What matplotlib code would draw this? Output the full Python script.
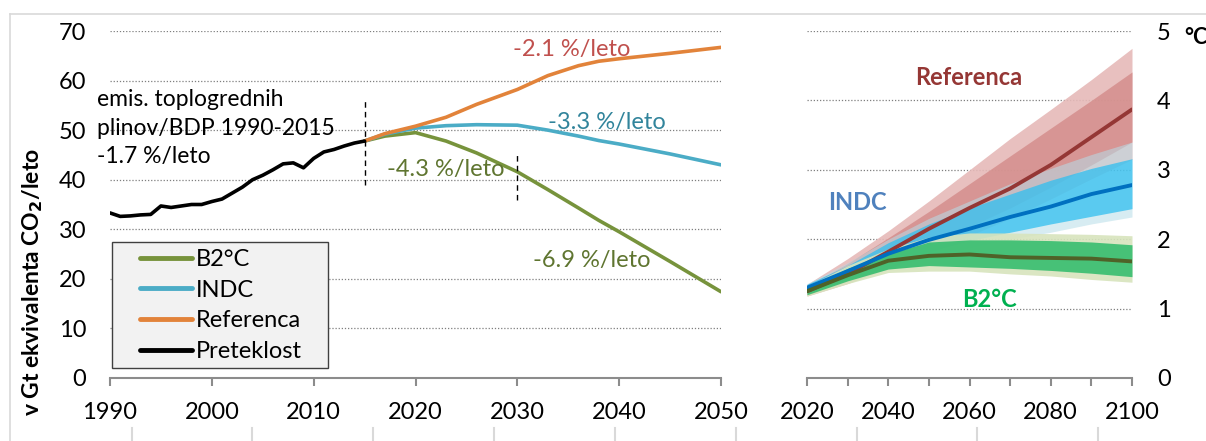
import numpy as np
import matplotlib
matplotlib.use('Agg')
import matplotlib.pyplot as plt
from matplotlib.lines import Line2D
from matplotlib.patches import Rectangle
from matplotlib.ticker import MultipleLocator

plt.rcParams['font.family'] = ['Lato', 'DejaVu Sans']

# emissions, Gt CO2-eq per year
hist_years = list(range(1990, 2016))
hist_vals = [33.3, 32.6, 32.7, 32.9, 33.0, 34.7, 34.4, 34.7, 35.0, 35.0,
             35.6, 36.1, 37.3, 38.5, 40.0, 40.9, 42.0, 43.2, 43.4, 42.4,
             44.3, 45.6, 46.1, 46.8, 47.4, 47.8]

proj_years = [2015, 2017, 2020, 2023, 2026, 2030, 2033, 2036, 2038, 2040, 2045, 2050]
ref_vals = [47.8, 49.3, 50.8, 52.6, 55.2, 58.2, 61.0, 63.0, 63.9, 64.4, 65.5, 66.7]
indc_vals = [47.8, 49.2, 50.4, 50.9, 51.1, 51.0, 50.0, 48.8, 47.9, 47.2, 45.2, 43.0]
b2_vals = [47.8, 48.8, 49.5, 47.8, 45.4, 41.6, 38.0, 34.3, 31.8, 29.5, 23.5, 17.4]

# temperature rise, degC
temp_years = [2020, 2030, 2040, 2050, 2060, 2070, 2080, 2090, 2100]
ref_mid = [1.25, 1.50, 1.82, 2.15, 2.45, 2.73, 3.07, 3.47, 3.87]
ref_out_hi = [1.35, 1.72, 2.12, 2.55, 3.00, 3.45, 3.87, 4.30, 4.75]
ref_in_hi = [1.32, 1.65, 2.02, 2.40, 2.80, 3.20, 3.60, 4.00, 4.41]
ref_in_lo = [1.20, 1.40, 1.65, 1.90, 2.18, 2.45, 2.75, 3.07, 3.40]
ref_out_lo = [1.18, 1.36, 1.58, 1.80, 2.05, 2.30, 2.58, 2.87, 3.15]

indc_mid = [1.30, 1.54, 1.79, 1.99, 2.15, 2.32, 2.47, 2.65, 2.78]
indc_out_hi = [1.36, 1.66, 2.00, 2.30, 2.55, 2.80, 3.02, 3.22, 3.40]
indc_in_hi = [1.35, 1.62, 1.95, 2.22, 2.45, 2.65, 2.85, 3.02, 3.16]
indc_in_lo = [1.25, 1.45, 1.65, 1.82, 1.98, 2.10, 2.22, 2.33, 2.44]
indc_out_lo = [1.22, 1.40, 1.58, 1.74, 1.88, 2.00, 2.10, 2.22, 2.32]

b2_mid = [1.25, 1.48, 1.69, 1.76, 1.78, 1.74, 1.73, 1.72, 1.68]
b2_out_hi = [1.32, 1.62, 1.86, 2.03, 2.09, 2.09, 2.08, 2.07, 2.05]
b2_in_hi = [1.30, 1.58, 1.79, 1.96, 1.99, 1.99, 1.98, 1.96, 1.92]
b2_in_lo = [1.20, 1.40, 1.57, 1.62, 1.60, 1.58, 1.55, 1.51, 1.46]
b2_out_lo = [1.18, 1.36, 1.52, 1.54, 1.54, 1.50, 1.47, 1.42, 1.38]

fig = plt.figure(figsize=(12.06, 4.41), dpi=100)
W, H = 1206, 441

# sheet cell borders around the chart
fig.add_artist(Line2D([10 / W, 1], [1 - 14 / H] * 2, color='#d9d9d9', lw=1.2))
fig.add_artist(Line2D([10 / W] * 2, [0, 1 - 14 / H], color='#d9d9d9', lw=1.2))
for xp in [132, 252, 373, 494, 615, 736, 857, 977, 1098]:
    fig.add_artist(Line2D([xp / W] * 2, [0, 13 / H], color='#d9d9d9', lw=1.5))

ax = fig.add_axes([110 / W, 1 - 378 / H, 611 / W, 347 / H])
ax2 = fig.add_axes([807 / W, 1 - 378 / H, 325 / W, 347 / H])

tick_fs = 17
txt_fs = 17
grid_kw = dict(color='#7f7f7f', lw=0.9, ls=(0, (1, 1.5)))

# left panel: emissions
ax.plot(proj_years, b2_vals, color='#77933c', lw=2.6, solid_capstyle='round', label='B2°C')
ax.plot(proj_years, indc_vals, color='#4bacc6', lw=2.6, solid_capstyle='round', label='INDC')
ax.plot(proj_years, ref_vals, color='#e2833a', lw=2.6, solid_capstyle='round', label='Referenca')
ax.plot(hist_years, hist_vals, color='black', lw=2.6, solid_capstyle='round', label='Preteklost')

ax.plot([2015, 2015], [38.9, 56.5], color='black', lw=1, ls=(0, (4, 3)))
ax.plot([2030, 2030], [35.9, 45.3], color='black', lw=1, ls=(0, (4, 3)))

ax.set_xlim(1990, 2050)
ax.set_ylim(0, 70)
ax.yaxis.set_major_locator(MultipleLocator(10))
ax.xaxis.set_major_locator(MultipleLocator(10))
for v in range(10, 71, 10):
    ax.axhline(v, zorder=0, **grid_kw)
for s in ['top', 'right', 'left']:
    ax.spines[s].set_visible(False)
ax.spines['bottom'].set_color('#8c8c8c')
ax.spines['bottom'].set_linewidth(1.5)
ax.tick_params(axis='x', direction='out', length=6, width=1.5, color='#8c8c8c',
               labelsize=tick_fs, pad=11)
ax.tick_params(axis='y', length=0, labelsize=tick_fs, pad=17)

ax.text(1988.7, 50.4, 'emis. toplogrednih\nplinov/BDP 1990-2015\n-1.7 %/leto',
        fontsize=16.5, va='center', ha='left', linespacing=1.45)
ax.text(2035.3, 66.2, '-2.1 %/leto', color='#c0504d', fontsize=txt_fs, ha='center', va='center')
ax.text(2038.8, 51.6, '-3.3 %/leto', color='#31849b', fontsize=txt_fs, ha='center', va='center')
ax.text(2023.0, 42.0, '-4.3 %/leto', color='#5f7530', fontsize=txt_fs, ha='center', va='center')
ax.text(2037.3, 23.8, '-6.9 %/leto', color='#5f7530', fontsize=txt_fs, ha='center', va='center')

# legend box drawn separately so the padding can be wider than the text rows
ax.add_patch(Rectangle((2 / 611, 10 / 347), 216 / 611, 126 / 347, transform=ax.transAxes,
                       facecolor='#f2f2f2', edgecolor='#404040', lw=1.0, zorder=4))
leg = ax.legend(loc='upper left', bbox_to_anchor=(30 / 611, 129 / 347), fontsize=txt_fs,
                handlelength=2.2, handletextpad=0.17, labelspacing=0.41,
                borderpad=0, borderaxespad=0, frameon=False)
leg.set_zorder(5)
for ln in leg.get_lines():
    ln.set_linewidth(3.5)

fig.text(33 / W, 1 - 282 / H, 'v Gt ekvivalenta CO$_\\mathbf{2}$/leto', rotation=90,
         fontsize=16.5, fontweight='bold', ha='center', va='center')

# right panel: temperature
ax2.fill_between(temp_years, ref_out_lo, ref_out_hi, color='#e6b9b8', alpha=0.9, lw=0)
ax2.fill_between(temp_years, ref_in_lo, ref_in_hi, color='#d08482', alpha=0.7, lw=0)
ax2.fill_between(temp_years, indc_out_lo, indc_out_hi, color='#b7dee8', alpha=0.55, lw=0)
ax2.fill_between(temp_years, indc_in_lo, indc_in_hi, color='#30bff0', alpha=0.75, lw=0)
ax2.fill_between(temp_years, b2_out_lo, b2_out_hi, color='#d7e4bd', alpha=0.9, lw=0)
ax2.fill_between(temp_years, b2_in_lo, b2_in_hi, color='#2dbb6a', alpha=0.85, lw=0)
ax2.plot(temp_years, ref_mid, color='#953735', lw=2.8, solid_capstyle='round')
ax2.plot(temp_years, indc_mid, color='#0070c0', lw=2.8, solid_capstyle='round')
ax2.plot(temp_years, b2_mid, color='#4f6228', lw=2.8, solid_capstyle='round')

ax2.set_xlim(2020, 2100)
ax2.set_ylim(0, 5)
ax2.xaxis.set_major_locator(MultipleLocator(20))
ax2.xaxis.set_minor_locator(MultipleLocator(10))
ax2.yaxis.set_major_locator(MultipleLocator(1))
for v in range(1, 6):
    ax2.axhline(v, zorder=0, **grid_kw)
for s in ['top', 'right', 'left']:
    ax2.spines[s].set_visible(False)
ax2.spines['bottom'].set_color('#8c8c8c')
ax2.spines['bottom'].set_linewidth(1.5)
ax2.tick_params(axis='x', which='both', direction='out', length=6, width=1.5,
                color='#8c8c8c', labelsize=tick_fs, pad=11)
ax2.yaxis.tick_right()
ax2.tick_params(axis='y', length=0, labelsize=tick_fs, pad=18)

ax2.text(2059.9, 4.33, 'Referenca', color='#953735', fontsize=17, fontweight='bold',
         ha='center', va='center')
ax2.text(2032.4, 2.53, 'INDC', color='#4f81bd', fontsize=17, fontweight='bold',
         ha='center', va='center')
ax2.text(2064.8, 1.13, 'B2°C', color='#00b050', fontsize=17, fontweight='bold',
         ha='center', va='center')
fig.text(1184 / W, 1 - 37 / H, '°C', fontsize=15.5, fontweight='bold', ha='left', va='center')

fig.savefig('out.png', dpi=100)
